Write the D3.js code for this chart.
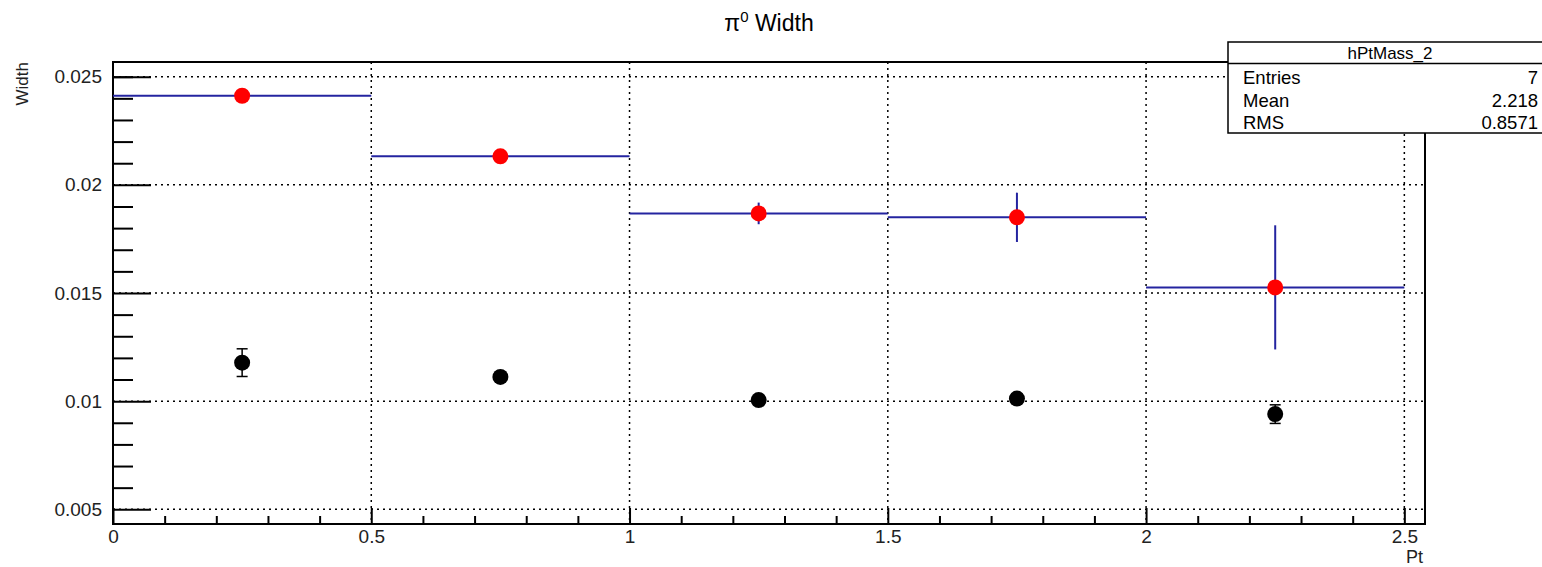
<!DOCTYPE html>
<html>
<head>
<meta charset="utf-8">
<script src="https://cdn.jsdelivr.net/npm/d3@7"></script>
<style>
	body { margin: 0; background: #fff; }
	svg { display: block; font-family: "Liberation Sans", Arial, sans-serif; }
	.tick text { font-size: 19px; fill: #222; }
	.tick line { stroke: #000; stroke-width: 2; }
	.grid line { stroke: #000; stroke-width: 1.5; stroke-dasharray: 2,4; }
</style>
</head>
<body>
<div class="container"></div>
<script>
// pt bins, centres and the two width series
var binCenters = [0.25, 0.75, 1.25, 1.75, 2.25],
	binHalf = 0.25,
	fitWidth = [0.02412, 0.02132, 0.01868, 0.01850, 0.01526],
	fitErr = [0.0001, 0.0001, 0.0005, 0.00114, 0.00287],
	rawWidth = [0.01178, 0.01112, 0.01005, 0.01012, 0.00940],
	rawErr = [0.00064, 0.0002, 0.0002, 0.0002, 0.00043],
	xMajor = [0, 0.5, 1, 1.5, 2, 2.5],
	xMinor = [0.1,0.2,0.3,0.4,0.6,0.7,0.8,0.9,1.1,1.2,1.3,1.4,1.6,1.7,1.8,1.9,2.1,2.2,2.3,2.4],
	yMajor = [0.005, 0.01, 0.015, 0.02, 0.025],
	yMinor = [0.006,0.007,0.008,0.009,0.011,0.012,0.013,0.014,0.016,0.017,0.018,0.019,0.021,0.022,0.023,0.024,0.025],
	statLabels = ['Entries', 'Mean', 'RMS'],
	statValues = ['7', '2.218', '0.8571'];

var	WIDTH = 1542,
	HEIGHT = 567,
	LEFT = 113,
	RIGHT = 1425,
	TOP = 62,
	BOTTOM = 524,
	BLUE = '#2424a0',
	xScale,
	yScale;

function translate(x, y) {
	return 'translate(' + x + ',' + y + ')';
}

function drawChart() {
	var svg = d3.select('.container').append('svg')
		.attr('width', WIDTH)
		.attr('height', HEIGHT);

	xScale = d3.scaleLinear().domain([0, 2.54]).range([LEFT, RIGHT]);
	yScale = d3.scaleLinear().domain([0.00432, 0.02568]).range([BOTTOM, TOP]);

	// dotted grid
	var grid = svg.append('g').attr('class', 'grid');
	grid.selectAll('.gx').data(xMajor.slice(1)).enter().append('line')
		.attr('x1', function(d) {return xScale(d)})
		.attr('x2', function(d) {return xScale(d)})
		.attr('y1', TOP).attr('y2', BOTTOM);
	grid.selectAll('.gy').data(yMajor).enter().append('line')
		.attr('x1', LEFT).attr('x2', RIGHT)
		.attr('y1', function(d) {return yScale(d)})
		.attr('y2', function(d) {return yScale(d)});

	// axes, ticks pointing inward
	var xAxis = d3.axisBottom(xScale).tickValues(xMajor).tickSize(-16).tickPadding(6)
		.tickFormat(function(d) {return d});
	var xAxisMinor = d3.axisBottom(xScale).tickValues(xMinor).tickSize(-8).tickFormat('');
	var yAxis = d3.axisLeft(yScale).tickValues(yMajor).tickSize(-38).tickPadding(11)
		.tickFormat(function(d) {return d});
	var yAxisMinor = d3.axisLeft(yScale).tickValues(yMinor).tickSize(-20).tickFormat('');

	svg.append('g').attr('transform', translate(0, BOTTOM)).call(xAxisMinor);
	svg.append('g').attr('transform', translate(0, BOTTOM)).call(xAxis);
	svg.append('g').attr('transform', translate(LEFT, 0)).call(yAxisMinor);
	svg.append('g').attr('transform', translate(LEFT, 0)).call(yAxis);
	svg.selectAll('.domain').remove();

	// frame
	svg.append('rect')
		.attr('x', LEFT).attr('y', TOP)
		.attr('width', RIGHT - LEFT).attr('height', BOTTOM - TOP)
		.attr('fill', 'none').attr('stroke', '#000').attr('stroke-width', 2);

	// fitted widths: bin-wide bars and vertical errors in blue
	var fit = svg.append('g');
	fit.selectAll('.hbar').data(fitWidth).enter().append('line')
		.attr('x1', function(d, i) {return xScale(binCenters[i] - binHalf)})
		.attr('x2', function(d, i) {return xScale(binCenters[i] + binHalf)})
		.attr('y1', function(d) {return yScale(d)})
		.attr('y2', function(d) {return yScale(d)})
		.attr('stroke', BLUE).attr('stroke-width', 2);
	fit.selectAll('.vbar').data(fitWidth).enter().append('line')
		.attr('x1', function(d, i) {return xScale(binCenters[i])})
		.attr('x2', function(d, i) {return xScale(binCenters[i])})
		.attr('y1', function(d, i) {return yScale(d + fitErr[i])})
		.attr('y2', function(d, i) {return yScale(d - fitErr[i])})
		.attr('stroke', BLUE).attr('stroke-width', 2);

	// raw widths: black error bars with caps
	var raw = svg.append('g').attr('stroke', '#000').attr('stroke-width', 1.5);
	raw.selectAll('.ev').data(rawWidth).enter().append('line')
		.attr('x1', function(d, i) {return xScale(binCenters[i])})
		.attr('x2', function(d, i) {return xScale(binCenters[i])})
		.attr('y1', function(d, i) {return yScale(d + rawErr[i])})
		.attr('y2', function(d, i) {return yScale(d - rawErr[i])});
	[1, -1].forEach(function(s) {
		raw.selectAll('.cap').data(rawWidth).enter().append('line')
			.attr('x1', function(d, i) {return xScale(binCenters[i]) - 5.5})
			.attr('x2', function(d, i) {return xScale(binCenters[i]) + 5.5})
			.attr('y1', function(d, i) {return yScale(d + s * rawErr[i])})
			.attr('y2', function(d, i) {return yScale(d + s * rawErr[i])});
	});

	svg.selectAll('.rawdot').data(rawWidth).enter().append('circle')
		.attr('cx', function(d, i) {return xScale(binCenters[i])})
		.attr('cy', function(d) {return yScale(d)})
		.attr('r', 8).attr('fill', '#000');
	svg.selectAll('.fitdot').data(fitWidth).enter().append('circle')
		.attr('cx', function(d, i) {return xScale(binCenters[i])})
		.attr('cy', function(d) {return yScale(d)})
		.attr('r', 8).attr('fill', '#ff0000');

	// titles
	var title = svg.append('text')
		.attr('x', 769).attr('y', 31)
		.attr('text-anchor', 'middle')
		.style('font-size', '23px');
	title.append('tspan').text('\u03c0');
	title.append('tspan').attr('dy', -9).style('font-size', '15px').text('0');
	title.append('tspan').attr('dy', 9).text(' Width');

	svg.append('text')
		.attr('transform', translate(28, TOP) + ' rotate(-90)')
		.attr('text-anchor', 'end')
		.style('font-size', '17px')
		.style('fill', '#222')
		.text('Width');

	svg.append('text')
		.attr('x', RIGHT - 2).attr('y', 563)
		.attr('text-anchor', 'end')
		.style('font-size', '18px')
		.style('fill', '#222')
		.text('Pt');

	// stats box
	var box = svg.append('g');
	box.append('rect')
		.attr('x', 1228).attr('y', 42)
		.attr('width', 340).attr('height', 91)
		.attr('fill', '#fff').attr('stroke', '#000').attr('stroke-width', 1.5);
	box.append('line')
		.attr('x1', 1228).attr('x2', WIDTH)
		.attr('y1', 63.5).attr('y2', 63.5)
		.attr('stroke', '#000').attr('stroke-width', 1.5);
	box.append('text')
		.attr('x', 1390).attr('y', 59)
		.attr('text-anchor', 'middle')
		.style('font-size', '17px')
		.text('hPtMass_2');
	statLabels.forEach(function(label, i) {
		var y = 84 + i * 22.5;
		box.append('text').attr('x', 1243).attr('y', y)
			.style('font-size', '18.5px').text(label);
		box.append('text').attr('x', 1538).attr('y', y)
			.attr('text-anchor', 'end')
			.style('font-size', '18.5px').text(statValues[i]);
	});
}

window.onload = function() {
	drawChart();
}
</script>
</body>
</html>
